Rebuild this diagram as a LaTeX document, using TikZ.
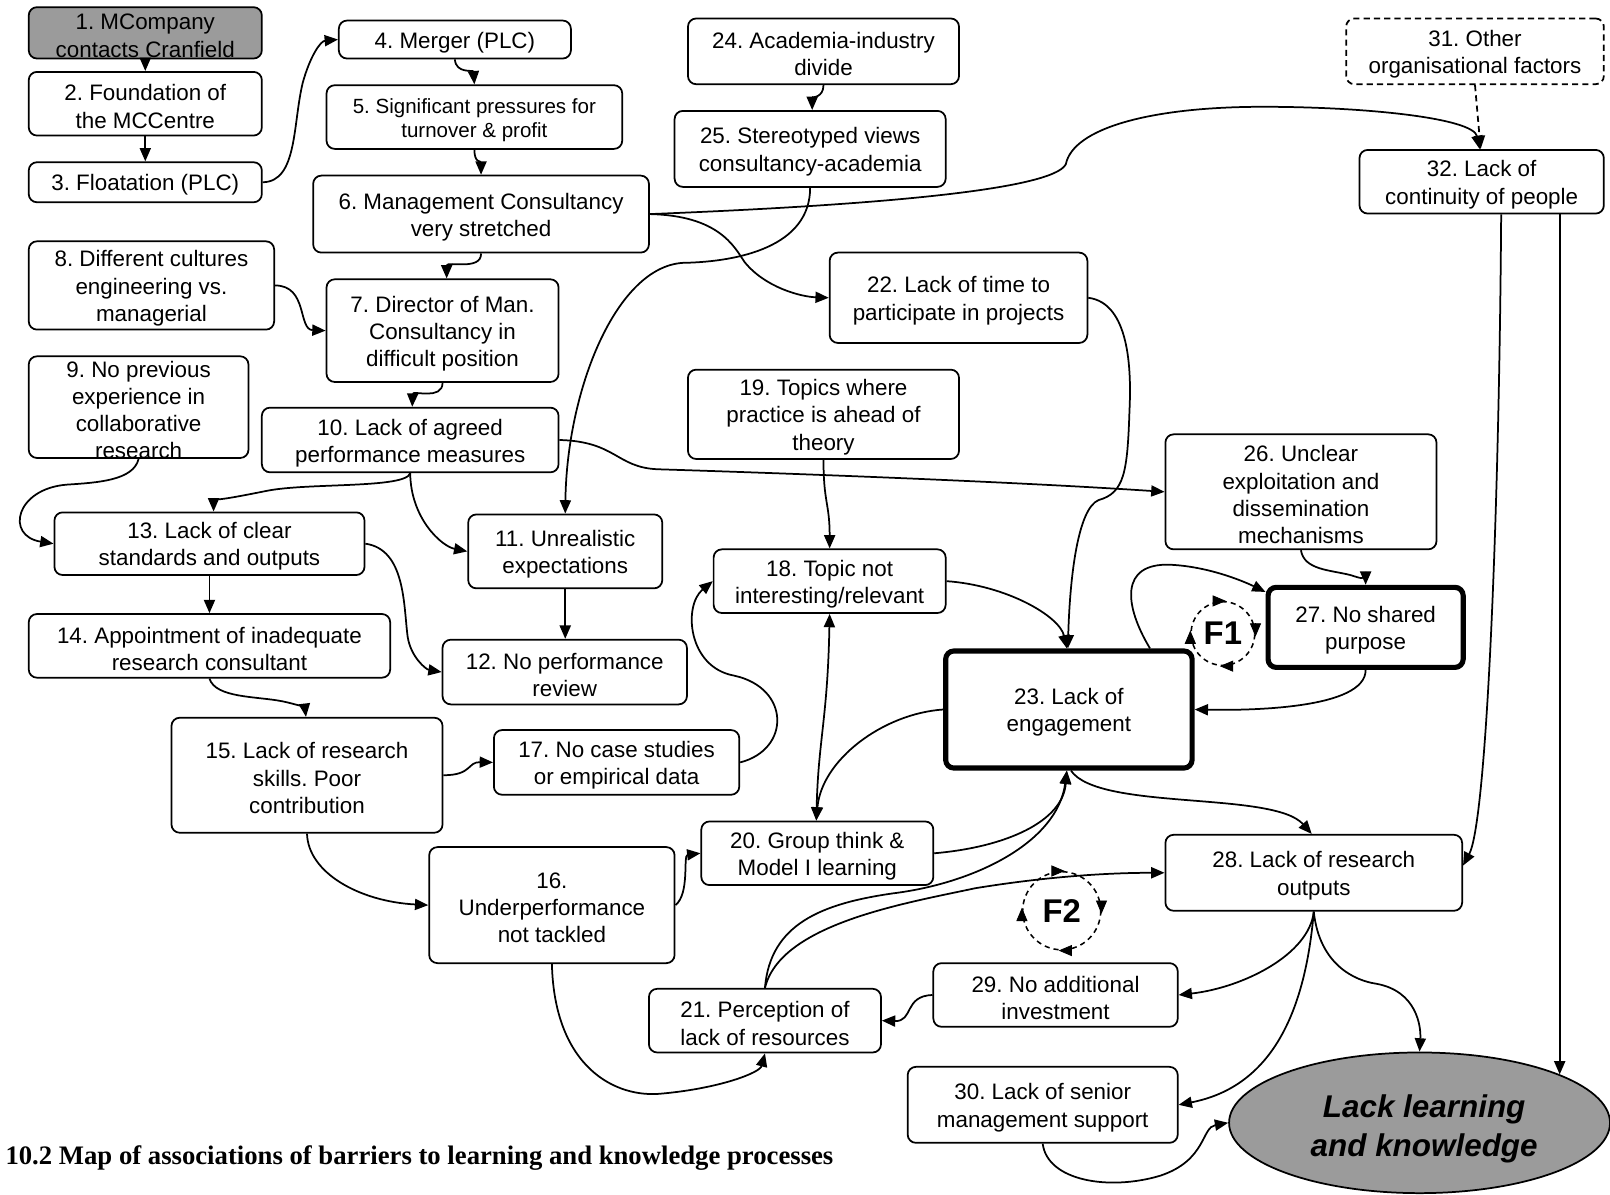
\documentclass[tikz,border=0pt]{standalone}
\usepackage{fontspec}
\setmainfont{Liberation Sans}
\newfontfamily\capfont{Liberation Serif}
\usetikzlibrary{arrows.meta,calc,shapes.geometric}
\definecolor{fillgrey}{RGB}{155,155,155}
\frenchspacing

% box from corner (x1,y1) to (x2,y2); text placed separately so the box keeps its size
% #1 box style, #2 text style, #3 name, #4..#7 corners, #8 text
\NewDocumentCommand\bnode{O{} O{} m m m m m m}{%
  \pgfmathsetmacro\bcx{(#4+#6)/2}%
  \pgfmathsetmacro\bcy{(#5+#7)/2}%
  \pgfmathsetmacro\bw{(#6-#4)/2}%
  \pgfmathsetmacro\bh{(#7-#5)/2}%
  \node[bx,minimum width=\bw pt,minimum height=\bh pt,#1] (#3) at (\bcx,\bcy) {};%
  \node[txt,#2] at (#3.center) {#8};%
}

\begin{document}
\begin{tikzpicture}[x=0.5pt,y=-0.5pt,
  bx/.style={draw,rounded corners=4pt,line width=0.85pt,inner sep=0pt,fill=white},
  txt/.style={align=center,inner sep=0pt,yshift=-1.4pt,font=\fontsize{10.9}{13.25}\selectfont},
  heavy/.style={line width=2.5pt},
  link/.style={line width=0.85pt,->},
  loopc/.style={circle,draw,dashed,dash pattern=on 2.5pt off 2pt,line width=0.75pt,
    minimum size=31pt,inner sep=0pt,font=\bfseries\fontsize{16}{18}\selectfont},
  >={Triangle[length=6.5pt,width=5.4pt]}]

\fill[white] (0,0) rectangle (1568,1163);
\useasboundingbox (0,0) rectangle (1568,1163);

% ---------- boxes ----------
\bnode[fill=fillgrey]{n1}{28}{7}{255}{57}{1. MCompany\\contacts Cranfield}
\bnode{n2}{28}{70}{255}{132}{2. Foundation of\\the MCCentre}
\bnode{n3}{28}{158}{255}{197}{3. Floatation (PLC)}
\bnode{n4}{330}{20}{556}{57}{4. Merger (PLC)}
\bnode[][font=\fontsize{10}{11.5}\selectfont]{n5}{318}{83}{606}{145}{5. Significant pressures for\\turnover \& profit}
\bnode{n6}{305}{171}{632}{246}{6. Management Consultancy\\very stretched}
\bnode{n7}{318}{272}{544}{372}{7. Director of Man.\\Consultancy in\\difficult position}
\bnode{n8}{28}{235}{267}{321}{8. Different cultures\\engineering vs.\\managerial}
\bnode{n9}{28}{347}{242}{446}{9. No previous\\experience in\\collaborative\\research}
\bnode{n10}{255}{397}{544}{460}{10. Lack of agreed\\performance measures}
\bnode{n11}{456}{501}{645}{573}{11. Unrealistic\\expectations}
\bnode{n12}{431}{623}{669}{686}{12. No performance\\review}
\bnode{n13}{53}{499}{355}{560}{13. Lack of clear\\standards and outputs}
\bnode{n14}{28}{598}{380}{660}{14. Appointment of inadequate\\research consultant}
\bnode{n15}{167}{699}{431}{811}{15. Lack of research\\skills. Poor\\contribution}
\bnode{n16}{418}{825}{657}{938}{16.\\Underperformance\\not tackled}
\bnode{n17}{481}{711}{720}{774}{17. No case studies\\or empirical data}
\bnode{n18}{695}{535}{921}{597}{18. Topic not\\interesting/relevant}
\bnode{n19}{670}{360}{934}{447}{19. Topics where\\practice is ahead of\\theory}
\bnode{n20}{683}{800}{909}{862}{20. Group think \&\\Model I learning}
\bnode{n21}{632}{963}{858}{1025}{21. Perception of\\lack of resources}
\bnode{n22}{808}{246}{1059}{334}{22. Lack of time to\\participate in projects}
\bnode[heavy]{n23}{921}{634}{1161}{748}{23. Lack of\\engagement}
\bnode{n24}{670}{18}{934}{82}{24. Academia-industry\\divide}
\bnode{n25}{657}{108}{921}{182}{25. Stereotyped views\\consultancy-academia}
\bnode{n26}{1135}{423}{1399}{535}{26. Unclear\\exploitation and\\dissemination\\mechanisms}
\bnode[heavy]{n27}{1235}{572}{1425}{650}{27. No shared\\purpose}
\bnode{n28}{1135}{813}{1424}{887}{28. Lack of research\\outputs}
\bnode{n29}{909}{938}{1147}{1000}{29. No additional\\investment}
\bnode{n30}{884}{1039}{1147}{1113}{30. Lack of senior\\management support}
\bnode[dashed,dash pattern=on 3pt off 2pt]{n31}{1311}{18}{1562}{82}{31. Other\\organisational factors}
\bnode{n32}{1324}{146}{1562}{208}{32. Lack of\\continuity of people}

% outcome ellipse
\node[ellipse,draw,line width=0.85pt,fill=fillgrey,minimum width=185.5pt,minimum height=68.5pt,inner sep=0pt] (lk) at (1382.5,1093.5) {};
\node[txt,font=\bfseries\itshape\fontsize{15.3}{19}\selectfont] at (1387,1097) {Lack learning\\and knowledge};

% feedback loops
\node[loopc] (f1) at (1191,617) {F1};
\node[loopc,minimum size=38pt] (f2) at (1034,887) {F2};
\foreach \f in {f1,f2}{
  \draw[->] ($(\f.north)+(-3,0)$) -- ($(\f.north)+(3,0)$);
  \draw[->] ($(\f.east)+(0,-3)$) -- ($(\f.east)+(0,3)$);
  \draw[->] ($(\f.south)+(3,0)$) -- ($(\f.south)+(-3,0)$);
  \draw[->] ($(\f.west)+(0,3)$) -- ($(\f.west)+(0,-3)$);
}

% caption
\node[anchor=base west,inner sep=0pt,font=\capfont\bfseries\fontsize{13}{15}\selectfont] (cap) at (5,1134)
  {10.2 Map of associations of barriers to learning and knowledge processes};

% ---------- connectors ----------
\draw[link] (n1) -- (n2);
\draw[link] (n2) -- (n3);
\draw[link] (n3.east) .. controls (290,177) and (285,120) .. (295,80) .. controls (302,55) and (312,40) .. (n4.west);
\draw[link] (n4.south) .. controls (444,72) and (461,68) .. (n5.north);
\draw[link] (n5.south) .. controls +(0,13) and +(0,-13) .. (n6.north);
\draw[link] (n6.south) .. controls (469,264) and (435,254) .. ($(n7.north)+(4,0)$);
\draw[link] (n7.south) .. controls (431,390) and (402,380) .. ($(n10.north)+(2,0)$);
\draw[link] (n8.east) .. controls (300,278) and (290,321) .. (n7.west);
\draw[link] (n9.south) .. controls (130,468) and (95,470) .. (65,472) .. controls (15,476) and (5,522) .. (n13.west);
\draw[link] (n10.south) .. controls (395,476) and (300,470) .. (260,478) .. controls (225,485) and (208,488) .. ($(n13.north)+(4,0)$);
\draw[link] (n10.south) .. controls (400,505) and (430,532) .. (n11.west);
\draw[link] (n10.east) .. controls (600,430) and (600,455) .. (640,457) .. controls (800,462) and (1000,470) .. (n26.west);
\draw[link] (n25.south) .. controls (789,240) and (720,255) .. (665,256) .. controls (600,260) and (552,380) .. (n11.north);
\draw[link] (n6.east) .. controls (850,200) and (1025,185) .. (1038,160) .. controls (1045,125) and (1120,104) .. (1230,104) .. controls (1330,104) and (1435,115) .. ($(n32.north)+(-2,0)$);
\draw[link] (n6.east) .. controls (700,210) and (715,240) .. (725,255) .. controls (745,280) and (780,289) .. (n22.west);
\draw[link] (n22.east) .. controls (1100,295) and (1102,360) .. (1100,400) .. controls (1098,460) and (1095,480) .. (1070,487) .. controls (1050,495) and (1042,560) .. ($(n23.north)+(-1,0)$);
\draw[link] (n19.south) .. controls (802,490) and (808,490) .. (n18.north);
\draw[link] (n17.east) .. controls (770,730) and (770,670) .. (715,658) .. controls (670,650) and (665,590) .. (n18.west);
\draw[link,<->] (n18.south) .. controls (806,700) and (797,720) .. ($(n20.north)+(-1,0)$);
\draw[link] (n23.west) .. controls (860,695) and (800,740) .. ($(n20.north)+(-1,0)$);
\draw[link] (n18.east) .. controls (980,570) and (1032,600) .. ($(n23.north)+(-2,0)$);
\draw[link] (n20.east) .. controls (980,825) and (1035,800) .. ($(n23.south)+(-2,0)$);
\draw[link] (n21.north) .. controls (750,900) and (800,880) .. (870,870) .. controls (950,860) and (1030,820) .. ($(n23.south)+(-2,0)$);
\draw[link] (n21.north) .. controls (760,900) and (880,880) .. (950,865) .. controls (1030,852) and (1090,850) .. (n28.west);
\draw[link] ($(n23.south)+(2,0)$) .. controls (1070,790) and (1240,770) .. ($(n28.north)+(-2,0)$);
\draw[link] (n26.south) .. controls (1270,555) and (1295,555) .. (1315,560) .. controls (1325,563) and (1330,566) .. (n27.north);
\draw[link] ($(n23.north)+(79,0)$) .. controls (1095,590) and (1090,548) .. (1140,550) .. controls (1180,552) and (1215,568) .. ($(n27.north west)+(0,7)$);
\draw[link] (n27.south) .. controls (1330,690) and (1220,692) .. (n23.east);
\draw[link] ($(n32.south)+(19,0)$) .. controls (1460,500) and (1448,800) .. ($(n28.east)+(0,-7)$);
\draw[link] ($(n32.south)+(76,0)$) coordinate (c32) -- (c32 |- lk.19);
\draw[link,dashed,dash pattern=on 3pt off 2pt] (n31.south) -- ($(n32.north)+(-1,0)$);
\draw[link] (n24.south) .. controls (802,95) and (791,95) .. ($(n25.north)+(2,0)$);
\draw[link] (n13) -- (n14);
\draw[link] (n13.east) .. controls (395,535) and (393,590) .. (397,620) .. controls (400,640) and (415,652) .. (n12.west);
\draw[link] (n11.south) -- (n11.south |- n12.north);
\draw[link] (n14.south) .. controls (210,680) and (250,678) .. (275,683) .. controls (290,686) and (297,690) .. ($(n15.north)+(-1,0)$);
\draw[link] (n15.east) .. controls (460,755) and (455,742) .. (n17.west);
\draw[link] (n15.south) .. controls (300,850) and (350,878) .. (n16.west);
\draw[link] (n16.east) .. controls (672,870) and (665,833) .. (n20.west);
\draw[link] (n16.south) .. controls (540,1040) and (600,1070) .. (645,1065) .. controls (700,1060) and (740,1045) .. (n21.south);
\draw[link] (n29.west) .. controls (880,970) and (890,995) .. (n21.east);
\draw[link] (n28.south) .. controls (1275,930) and (1210,962) .. (n29.east);
\draw[link] (n28.south) .. controls (1270,1000) and (1230,1060) .. (n30.east);
\draw[link] (n28.south) .. controls (1285,940) and (1320,955) .. (1340,958) .. controls (1380,965) and (1384,1000) .. (lk.north);
\draw[link] (n30.south) .. controls (1020,1150) and (1080,1160) .. (1130,1145) .. controls (1175,1130) and (1170,1098) .. (lk.west);

\end{tikzpicture}
\end{document}
